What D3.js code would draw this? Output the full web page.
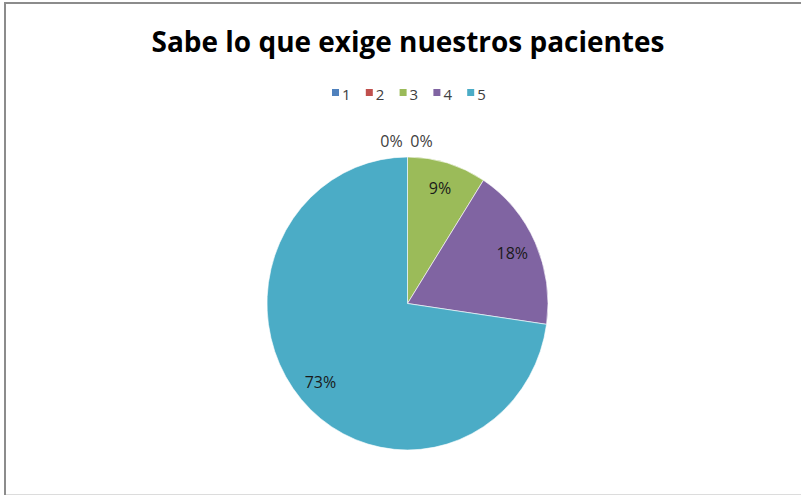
<!DOCTYPE html>
<html>
<head>
<meta charset="utf-8">
<script src="https://cdn.jsdelivr.net/npm/d3@7"></script>
<style>
  html, body { margin: 0; padding: 0; background: #fff; }
  svg { display: block; }
</style>
</head>
<body>
<script>
const title = "Sabe lo que exige nuestros pacientes";
const categories = ["1", "2", "3", "4", "5"];
const values = [0, 0, 1, 2, 8];
const colors = ["#4F81BD", "#C0504D", "#9BBB59", "#8064A2", "#4BACC6"];

const W = 801, H = 495;
const svg = d3.select("body").append("svg").attr("width", W).attr("height", H);

// frame
svg.append("line").attr("x1", 4).attr("x2", W).attr("y1", 3).attr("y2", 3)
  .attr("stroke", "#8c8c8c").attr("stroke-width", 2);
svg.append("line").attr("x1", 5).attr("x2", 5).attr("y1", 2).attr("y2", H)
  .attr("stroke", "#8c8c8c").attr("stroke-width", 2);
svg.append("line").attr("x1", 6).attr("x2", W).attr("y1", 494.5).attr("y2", 494.5)
  .attr("stroke", "#dcdcdc").attr("stroke-width", 1);

const font = "'Open Sans', 'Liberation Sans', sans-serif";

// title
const t = svg.append("text").attr("x", 408).attr("y", 52)
  .attr("text-anchor", "middle").attr("font-family", font)
  .attr("font-weight", "bold").attr("font-size", 30).attr("fill", "#000")
  .text(title);
const tw = t.node().getComputedTextLength();
t.attr("font-size", 30 * 513 / tw);

// legend
const legendX = d3.scaleBand().domain(categories).range([332, 501]);
const lg = svg.append("g").selectAll("g").data(categories).join("g")
  .attr("transform", d => `translate(${legendX(d)},0)`);
lg.append("rect").attr("x", 0).attr("y", 89).attr("width", 7).attr("height", 7)
  .attr("fill", (d, i) => colors[i]);
lg.append("text").attr("x", 10).attr("y", 99.5).attr("font-family", font)
  .attr("font-size", 15).attr("fill", "#404040").text(d => d);

// pie
const cx = 407.5, cy = 303.5, R = 140.5, sy = 146.5 / 140.5;
const total = d3.sum(values);
const pie = d3.pie().sort(null).value(d => d)(values);
const arc = d3.arc().innerRadius(0).outerRadius(R);
const g = svg.append("g").attr("transform", `translate(${cx},${cy}) scale(1,${sy})`);
g.selectAll("path").data(pie).join("path")
  .attr("d", arc).attr("fill", (d, i) => colors[i])
  .attr("stroke", "#fff").attr("stroke-width", 0.6);

// labels
const inner = d3.arc().innerRadius(R * 0.82).outerRadius(R * 0.82);
const fmt = v => Math.round(v / total * 100) + "%";
const lab = svg.append("g").attr("transform", `translate(${cx},${cy})`);
let zeroIdx = 0;
pie.forEach((d, i) => {
  let x, y;
  if (d.value === 0) {
    const c = d3.arc().innerRadius(R).outerRadius(R).centroid(d);
    x = c[0] + (zeroIdx === 0 ? -16 : 14);
    y = c[1] * sy - 16;
    zeroIdx++;
  } else {
    const c = inner.centroid(d);
    x = c[0]; y = c[1] * sy;
  }
  lab.append("text").attr("x", x).attr("y", y).attr("dy", "0.35em")
    .attr("text-anchor", "middle").attr("font-family", font)
    .attr("font-size", 16).attr("fill", d.value === 0 ? "#404040" : "#1a1a1a")
    .text(fmt(d.value));
});
</script>
</body>
</html>
